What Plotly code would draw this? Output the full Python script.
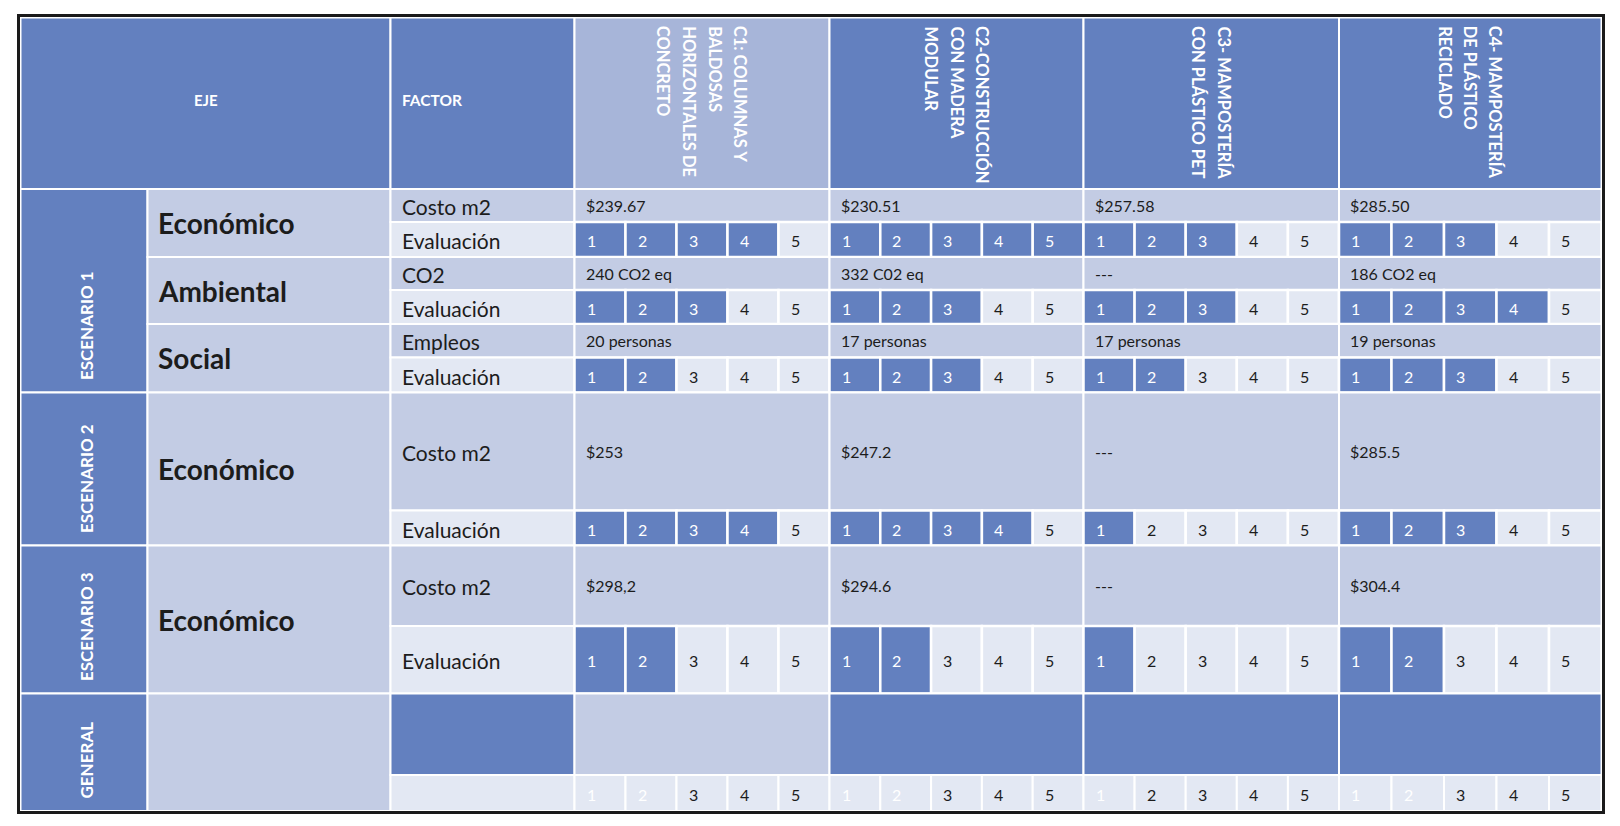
import plotly.graph_objects as go

# ---------------- data ----------------
scenario_labels = ["ESCENARIO 1", "ESCENARIO 2", "ESCENARIO 3", "GENERAL"]
eje_labels = ["Económico", "Ambiental", "Social", "Económico", "Económico"]
factor_labels = ["Costo m2", "CO2", "Empleos", "Costo m2", "Costo m2"]
eval_label = "Evaluación"
header_eje = "EJE"
header_factor = "FACTOR"
alt_names = [
    ["C1: COLUMNAS Y", "BALDOSAS", "HORIZONTALES DE", "CONCRETO"],
    ["C2-CONSTRUCCIÓN", "CON MADERA", "MODULAR"],
    ["C3- MAMPOSTERÍA", "CON PLÁSTICO PET"],
    ["C4- MAMPOSTERÍA", "DE PLÁSTICO", "RECICLADO"],
]
c1_values = ["$239.67", "240 CO2 eq", "20 personas", "$253", "$298,2"]
c2_values = ["$230.51", "332 C02 eq", "17 personas", "$247.2", "$294.6"]
c3_values = ["$257.58", "---", "17 personas", "---", "---"]
c4_values = ["$285.50", "186 CO2 eq", "19 personas", "$285.5", "$304.4"]
scale_levels = [1, 2, 3, 4, 5]
c1_scores = [4, 3, 2, 4, 2]
c2_scores = [5, 3, 3, 4, 2]
c3_scores = [3, 3, 2, 1, 1]
c4_scores = [3, 4, 3, 3, 2]
general_scores = [2, 2, 1, 2]
general_top_filled = [False, True, True, True]
header_highlight = [True, False, False, False]

values = [c1_values, c2_values, c3_values, c4_values]
scores = [c1_scores, c2_scores, c3_scores, c4_scores]

# ---------------- layout constants ----------------
W, H = 1620, 826
X_EDGES = [20.5, 147.5, 390.5, 574.5, 829.5, 1083.5, 1339, 1601.5]
HEAD_TOP, HEAD_BOT = 17.5, 189
ROW_EDGES = [189, 222, 257, 290, 324, 357.5, 392.5, 510.5, 545.5, 626, 693.5, 775, 811]

BLUE = "#6380BF"
HEAD_LIGHT = "#A7B5D9"
MID = "#C3CCE4"
LIGHT = "#E3E8F3"
TEXT = "#1C1C1C"
FONT = "Lato"

shapes = []
annots = []


def rect(x0, y0, x1, y1, fill, lw=2):
    shapes.append(dict(type="rect", xref="x", yref="y", x0=x0, y0=y0, x1=x1, y1=y1,
                       fillcolor=fill, line=dict(color="white", width=lw), layer="below"))


def text(x, y, s, size, color=TEXT, bold=False, xanchor="left", yanchor="middle", angle=0):
    annots.append(dict(x=x, y=y, xref="x", yref="y", text=(f"<b>{s}</b>" if bold else s),
                       showarrow=False, xanchor=xanchor, yanchor=yanchor, textangle=angle,
                       font=dict(family=FONT, size=size, color=color)))


# header
rect(X_EDGES[0], HEAD_TOP, X_EDGES[2], HEAD_BOT, BLUE)
text((X_EDGES[0] + X_EDGES[2]) / 2, (HEAD_TOP + HEAD_BOT) / 2 - 3, header_eje, 15, "white", True, "center")
rect(X_EDGES[2], HEAD_TOP, X_EDGES[3], HEAD_BOT, BLUE)
text(X_EDGES[2] + 9, (HEAD_TOP + HEAD_BOT) / 2 - 3, header_factor, 15.5, "white", True)
for ci, lines in enumerate(alt_names):
    x0, x1 = X_EDGES[3 + ci], X_EDGES[4 + ci]
    rect(x0, HEAD_TOP, x1, HEAD_BOT, HEAD_LIGHT if header_highlight[ci] else BLUE)
    cx = (x0 + x1) / 2
    n = len(lines)
    for li, ln in enumerate(lines):
        lx = cx + ((n - 1) / 2 - li) * 25.5
        text(lx, 24, ln, 16.5, "white", True, "center", "top", 90)

# scenario blocks
scen_ranges = [(ROW_EDGES[0], ROW_EDGES[6]), (ROW_EDGES[6], ROW_EDGES[8]),
               (ROW_EDGES[8], ROW_EDGES[10]), (ROW_EDGES[10], ROW_EDGES[12])]
for si, (y0, y1) in enumerate(scen_ranges):
    rect(X_EDGES[0], y0, X_EDGES[1], y1, BLUE)
    text((X_EDGES[0] + X_EDGES[1]) / 2 + 2, y1 - 10, scenario_labels[si], 17, "white", True,
         "center", "bottom", -90)

# factor groups
for gi in range(len(eje_labels)):
    yv0, yv1, ye1 = ROW_EDGES[2 * gi], ROW_EDGES[2 * gi + 1], ROW_EDGES[2 * gi + 2]
    rect(X_EDGES[1], yv0, X_EDGES[2], ye1, MID)
    text(X_EDGES[1] + 8, (yv0 + ye1) / 2, eje_labels[gi], 28, TEXT, True)
    rect(X_EDGES[2], yv0, X_EDGES[3], yv1, MID)
    text(X_EDGES[2] + 9, (yv0 + yv1) / 2 + 1, factor_labels[gi], 21)
    rect(X_EDGES[2], yv1, X_EDGES[3], ye1, LIGHT)
    text(X_EDGES[2] + 9, (yv1 + ye1) / 2 + 1, eval_label, 21)
    for ci in range(4):
        x0, x1 = X_EDGES[3 + ci], X_EDGES[4 + ci]
        rect(x0, yv0, x1, yv1, MID)
        text(x0 + 9, (yv0 + yv1) / 2, values[ci][gi], 16)
        cw = (x1 - x0) / len(scale_levels)
        for k, lvl in enumerate(scale_levels):
            filled = lvl <= scores[ci][gi]
            rect(x0 + k * cw, yv1, x0 + (k + 1) * cw, ye1, BLUE if filled else LIGHT, 2.5)
            text(x0 + k * cw + 10, (yv1 + ye1) / 2 + 1, str(lvl), 16,
                 "white" if filled else TEXT)

# general row
gy0, gy1, gy2 = ROW_EDGES[10], ROW_EDGES[11], ROW_EDGES[12]
rect(X_EDGES[1], gy0, X_EDGES[2], gy2, MID)
rect(X_EDGES[2], gy0, X_EDGES[3], gy1, BLUE)
rect(X_EDGES[2], gy1, X_EDGES[3], gy2, LIGHT)
for ci in range(4):
    x0, x1 = X_EDGES[3 + ci], X_EDGES[4 + ci]
    rect(x0, gy0, x1, gy1, BLUE if general_top_filled[ci] else MID)
    cw = (x1 - x0) / len(scale_levels)
    for k, lvl in enumerate(scale_levels):
        faint = lvl <= general_scores[ci]
        rect(x0 + k * cw, gy1, x0 + (k + 1) * cw, gy2, LIGHT)
        text(x0 + k * cw + 10, (gy1 + gy2) / 2 + 1, str(lvl), 16, "white" if faint else TEXT)

# outer frame
shapes.append(dict(type="rect", xref="x", yref="y", x0=18.5, y0=15.5, x1=1603.5, y1=812.5,
                   fillcolor="rgba(0,0,0,0)", line=dict(color="#1a1a1a", width=3), layer="above"))

fig = go.Figure()
fig.add_trace(go.Scatter(x=[0, W], y=[0, H], mode="markers", marker=dict(opacity=0),
                         hoverinfo="skip", showlegend=False))
fig.update_layout(
    width=W, height=H, margin=dict(l=0, r=0, t=0, b=0),
    paper_bgcolor="white", plot_bgcolor="white",
    xaxis=dict(range=[0, W], visible=False, fixedrange=True),
    yaxis=dict(range=[H, 0], visible=False, fixedrange=True),
    shapes=shapes, annotations=annots, showlegend=False,
)
fig.write_html("out.html", config={"displayModeBar": False},
               post_script="document.body.style.margin='0';document.body.style.overflow='hidden';")
